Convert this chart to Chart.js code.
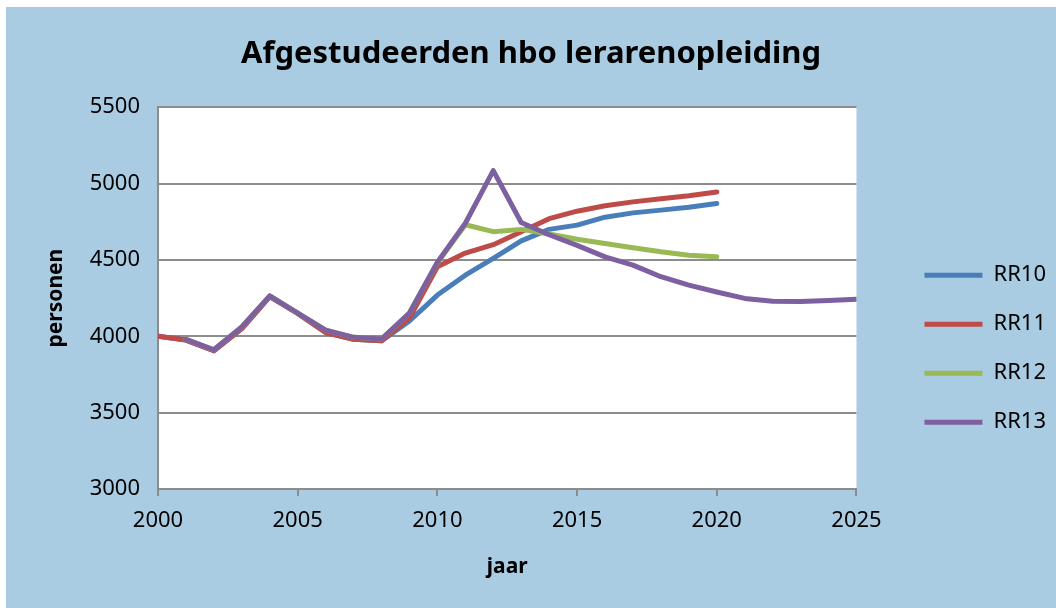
<!DOCTYPE html>
<html>
<head>
<meta charset="utf-8">
<script src="https://cdn.jsdelivr.net/npm/chart.js@4/dist/chart.umd.min.js"></script>
<style>
  body { margin: 0; background: #ffffff; }
  #box { position: absolute; left: 6px; top: 7px; width: 1050px; height: 601px; background: #a9cce2; }
</style>
</head>
<body>
<div id="box"><canvas id="chart" width="1050" height="601"></canvas></div>
<script>
const years = [2000, 2001, 2002, 2003, 2004, 2005, 2006, 2007, 2008, 2009, 2010,
    2011, 2012, 2013, 2014, 2015, 2016, 2017, 2018, 2019, 2020];
const yearsRR12 = [2001, 2002, 2003, 2004, 2005, 2006, 2007, 2008, 2009, 2010,
    2011, 2012, 2013, 2014, 2015, 2016, 2017, 2018, 2019, 2020];
const yearsRR13 = [2001, 2002, 2003, 2004, 2005, 2006, 2007, 2008, 2009, 2010,
    2011, 2012, 2013, 2014, 2015, 2016, 2017, 2018, 2019, 2020, 2021, 2022, 2023, 2024, 2025];
const RR10 = [4000, 3975, 3905, 4050, 4260, 4150, 4025, 3980, 3970, 4100, 4270,
    4400, 4510, 4625, 4700, 4728, 4780, 4808, 4826, 4845, 4870];
const RR11 = [4000, 3975, 3905, 4050, 4260, 4150, 4025, 3980, 3970, 4120, 4455,
    4545, 4600, 4684, 4770, 4819, 4855, 4880, 4900, 4920, 4945];
const RR12 = [3980, 3912, 4062, 4265, 4152, 4040, 3993, 3982, 4152, 4482,
    4730, 4685, 4700, 4670, 4635, 4608, 4580, 4553, 4531, 4520];
const RR13 = [3980, 3912, 4062, 4265, 4152, 4040, 3993, 3982, 4152, 4485,
    4740, 5085, 4745, 4665, 4595, 4520, 4466, 4390, 4335, 4290, 4248, 4230, 4228, 4235, 4242];

const font = "'Noto Sans', sans-serif";

function toPoints(xs, ys) {
    return xs.map((x, i) => ({ x: x, y: ys[i] }));
}

// order: lower number is drawn on top (RR13 on top like the original)
function makeSet(label, xs, ys, color, order) {
    return {
        label: label,
        data: toPoints(xs, ys),
        borderColor: color,
        backgroundColor: color,
        borderWidth: 5,
        pointRadius: 0,
        pointStyle: 'line',
        borderJoinStyle: 'round',
        borderCapStyle: 'round',
        tension: 0,
        order: order
    };
}

// white plot area
const plotBg = {
    id: 'plotBg',
    beforeDraw(chart) {
        const a = chart.chartArea;
        chart.ctx.save();
        chart.ctx.fillStyle = '#ffffff';
        chart.ctx.fillRect(a.left, a.top, a.right - a.left, a.bottom - a.top);
        chart.ctx.restore();
    }
};

new Chart(document.getElementById('chart'), {
    type: 'line',
    data: {
        datasets: [
            makeSet('RR10', years, RR10, '#4a7ebb', 3),
            makeSet('RR11', years, RR11, '#be4b48', 2),
            makeSet('RR12', yearsRR12, RR12, '#98b954', 1),
            makeSet('RR13', yearsRR13, RR13, '#7d60a0', 0)
        ]
    },
    options: {
        responsive: false,
        animation: false,
        plugins: {
            title: {
                display: true,
                text: 'Afgestudeerden hbo lerarenopleiding',
                color: '#000',
                font: { family: font, size: 31, weight: 'bold' },
                padding: { top: 29, bottom: 34 }
            },
            legend: {
                position: 'right',
                title: { display: true, text: '', font: { size: 12 }, padding: { top: 0, bottom: 68 } },
                labels: {
                    color: '#000',
                    font: { family: font, size: 22 },
                    usePointStyle: true,
                    pointStyleWidth: 58,
                    boxHeight: 5,
                    padding: 27,
                    sort: (a, b) => a.datasetIndex - b.datasetIndex
                }
            },
            tooltip: { enabled: false }
        },
        scales: {
            x: {
                type: 'linear',
                min: 2000,
                max: 2025,
                afterFit: s => { s.height = 119; },
                ticks: {
                    stepSize: 5,
                    color: '#000',
                    padding: 12,
                    font: { family: font, size: 22 },
                    callback: v => String(v)
                },
                grid: { drawOnChartArea: false, drawTicks: true, tickLength: 7, color: '#8c8c8c', lineWidth: 2 },
                border: { color: '#8c8c8c', width: 2 },
                title: {
                    display: true,
                    text: 'jaar',
                    color: '#000',
                    font: { family: font, size: 21, weight: 'bold' },
                    padding: { top: 0, bottom: 28 }
                }
            },
            y: {
                min: 3000,
                max: 5500,
                afterFit: s => { s.width = 152; },
                ticks: {
                    stepSize: 500,
                    color: '#000',
                    padding: 18,
                    font: { family: font, size: 22 },
                    callback: v => String(v)
                },
                grid: { drawTicks: false, color: '#8c8c8c', lineWidth: 2 },
                border: { color: '#8c8c8c', width: 2 },
                title: {
                    display: true,
                    text: 'personen',
                    color: '#000',
                    font: { family: font, size: 21, weight: 'bold' },
                    padding: { top: 37, bottom: 0 }
                }
            },
            gap: {
                type: 'linear',
                position: 'right',
                display: true,
                afterFit: s => { s.width = 41; },
                ticks: { display: false },
                grid: { display: false },
                border: { display: false }
            }
        }
    },
    plugins: [plotBg]
});
</script>
</body>
</html>
